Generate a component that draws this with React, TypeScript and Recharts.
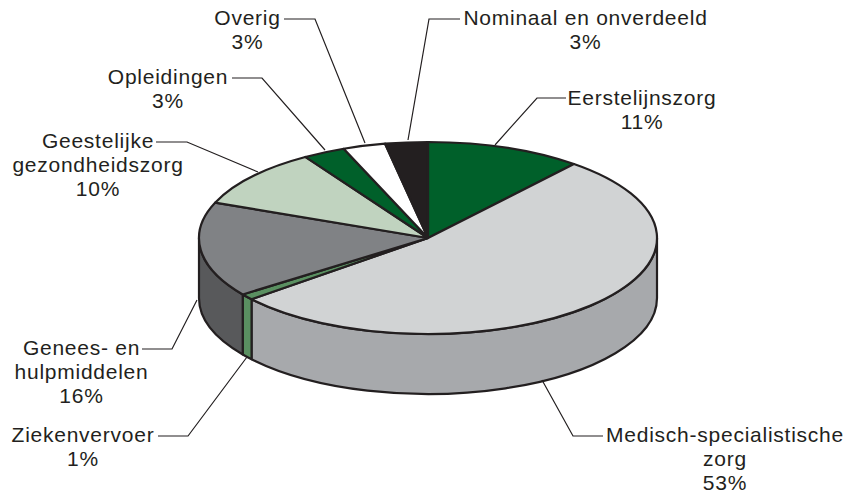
import React from "react";
import { PieChart, Pie } from "recharts";

const categories = ["Eerstelijnszorg","Medisch-specialistische zorg","Ziekenvervoer","Genees- en hulpmiddelen","Geestelijke gezondheidszorg","Opleidingen","Overig","Nominaal en onverdeeld"];
const shares = [11, 53, 1, 16, 10, 3, 3, 3];
const topColors = ["#00602a","#d1d3d4","#5a9061","#808285","#c0d3bf","#00602a","#ffffff","#231f20"];
const sideColors = ["#00602a","#a7a9ac","#5a9061","#58595b","#c0d3bf","#00602a","#ffffff","#231f20"];
const labelLines = [
  ["Eerstelijnszorg","11%"],
  ["Medisch-specialistische","zorg","53%"],
  ["Ziekenvervoer","1%"],
  ["Genees- en","hulpmiddelen","16%"],
  ["Geestelijke","gezondheidszorg","10%"],
  ["Opleidingen","3%"],
  ["Overig","3%"],
  ["Nominaal en onverdeeld","3%"],
];

// x centre and first baseline of each callout
const labelAnchors = [[642,105],[725,442],[83,442],[81.5,355],[98,148],[168,84],[247.5,25],[585.5,25]];
const leaders = [
  "495,145 537,98 566,98",
  "542,380 573,436 603,436",
  "247,357 188,436 158,436",
  "197,300 172,349 142,349",
  "258,172 187,142 156,142",
  "325,150 262,78 232,78",
  "365,143 315,19 284,19",
  "408,140 429,19 460,19",
];

const data = categories.map((name, i) => ({ name, value: shares[i] }));

const SQUASH = 96 / 229;
const DEPTH = 60;
const INK = "#231f20";
const rad = (a: number) => (a * Math.PI) / 180;

function topShape(p: any) {
  const { cx, cy, outerRadius: r, startAngle: s, endAngle: e, index } = p;
  const ry = r * SQUASH;
  const pt = (a: number) => `${cx + r * Math.cos(rad(a))},${cy - ry * Math.sin(rad(a))}`;
  const large = Math.abs(s - e) > 180 ? 1 : 0;
  const i = index ?? categories.indexOf(p.name);
  return (
    <path
      d={`M${cx},${cy} L${pt(s)} A${r},${ry} 0 ${large} 1 ${pt(e)} Z`}
      fill={topColors[i]}
      stroke={INK}
      strokeWidth={2.2}
      strokeLinejoin="round"
    />
  );
}

function sideShape(p: any) {
  const { cx, cy, outerRadius: r, startAngle: s, endAngle: e, index } = p;
  const ry = r * SQUASH;
  const hi = Math.min(s, 0);
  const lo = Math.max(e, -180);
  if (hi <= lo) return <g />;
  const pt = (a: number, dy: number) => `${cx + r * Math.cos(rad(a))},${cy - ry * Math.sin(rad(a)) + dy}`;
  const i = index ?? categories.indexOf(p.name);
  return (
    <path
      d={`M${pt(hi, 0)} A${r},${ry} 0 0 1 ${pt(lo, 0)} L${pt(lo, DEPTH)} A${r},${ry} 0 0 0 ${pt(hi, DEPTH)} Z`}
      fill={sideColors[i]}
      stroke={INK}
      strokeWidth={2.2}
      strokeLinejoin="round"
    />
  );
}

function renderLabel(p: any) {
  const i = p.index;
  const lines = labelLines[i];
  const [x, y] = labelAnchors[i];
  return (
    <g key={i}>
      <polyline points={leaders[i]} fill="none" stroke={INK} strokeWidth={1.2} />
      <text textAnchor="middle" fontFamily="'Liberation Sans', Arial, sans-serif" fontSize={21} letterSpacing={0.75} fill={INK}>
        {lines.map((t, k) => (
          <tspan key={k} x={x} y={y + k * 24}>{t}</tspan>
        ))}
      </text>
    </g>
  );
}

export default function App() {
  return (
    <div style={{ position: "absolute", left: 0, top: 0, width: 856, height: 495, background: "#fff" }}>
      <PieChart width={856} height={495} margin={{ top: 0, right: 0, bottom: 0, left: 0 }}>
        <Pie data={data} dataKey="value" nameKey="name" cx={428} cy={238} innerRadius={0} outerRadius={229}
          startAngle={90} endAngle={-270} isAnimationActive={false} shape={sideShape} stroke="none" />
        <Pie data={data} dataKey="value" nameKey="name" cx={428} cy={238} innerRadius={0} outerRadius={229}
          startAngle={90} endAngle={-270} isAnimationActive={false} shape={topShape} stroke="none"
          label={renderLabel} labelLine={false} />
      </PieChart>
    </div>
  );
}
